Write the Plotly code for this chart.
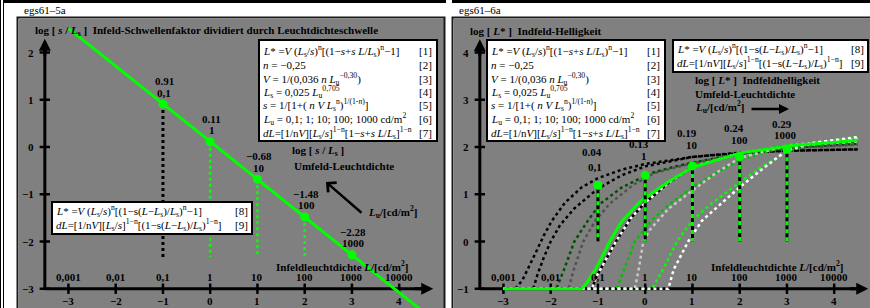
import plotly.graph_objects as go

# ---------------- data ----------------
# left panel: log(s/Ls) versus log Lu
lu_log = [-1, 0, 1, 2, 3]
lu_lab = ["0,1", "1", "10", "100", "1000"]
s_ls_val = [0.91, 0.11, -0.68, -1.48, -2.28]
s_ls_lab = ["0.91", "0.11", "\u22120.68", "\u22121.48", "\u22122.28"]
line_u = [-3, -2, -1, 0, 1, 2, 3, 4, 4.6]
line_v = [2.51, 1.71, 0.91, 0.11, -0.68, -1.48, -2.28, -3.08, -3.56]
drop_end = -2.33

# right panel: log L* versus log L
pt_v = [1.19, 1.40, 1.60, 1.79, 1.95]
dl_lab = ["0.04", "0.13", "0.19", "0.24", "0.29"]

c1_u = [-3, -2.75, -2.6, -2.45, -2.3, -2.15, -1.98, -1.7, -1.34, -1.0, -0.5, 0, 1, 2, 3, 4.5]
c1_v = [-1, -1, -0.82, -0.52, -0.2, 0.12, 0.43, 0.82, 1.15, 1.34, 1.52, 1.64, 1.79, 1.87, 1.92, 1.95]
c2_u = [-3, -2.37, -2.28, -2.15, -2.0, -1.8, -1.5, -1.0, -0.5, 0, 1, 2, 3, 4.5]
c2_v = [-1, -1, -0.7, -0.35, 0.0, 0.35, 0.7, 1.12, 1.40, 1.59, 1.79, 1.88, 1.92, 1.95]
c3_u = [-3, -1.88, -1.72, -1.5, -1.2, -0.95, -0.5, 0.1, 0.6, 1.16, 2, 3, 4.5]
c3_v = [-1, -1, -0.6, 0.0, 0.46, 0.8, 1.14, 1.44, 1.58, 1.70, 1.86, 1.98, 2.07]
c4_u = [-3, -1.62, -1.52, -1.42, -1.31, -1.05, -0.75, -0.25, 0.2, 1, 2, 3, 4.5]
c4_v = [-1, -1, -0.62, -0.3, 0.0, 0.45, 0.80, 1.2, 1.45, 1.66, 1.85, 1.97, 2.05]
c5_u = [-3, -1.35, -1.22, -1.0, -0.75, -0.5, -0.1, 0.5, 1.0, 2.0, 3.0, 4.5]
c5_v = [-1, -1, -0.86, -0.5, 0.0, 0.42, 0.85, 1.27, 1.57, 1.87, 2.02, 2.14]
c6_u = [-3, -1.13, -1.02, -0.85, -0.62, -0.3, 0, 0.5, 1, 2, 3, 4.5]
c6_v = [-1, -1, -0.72, -0.4, 0.0, 0.5, 0.82, 1.25, 1.58, 1.87, 2.02, 2.12]
c7_u = [-3, -0.6, -0.45, -0.22, 0.14, 0.5, 1.0, 1.5, 2.0, 3.0, 4.5]
c7_v = [-1, -1, -0.6, 0.0, 0.45, 0.78, 1.15, 1.45, 1.72, 2.03, 2.18]
c8_u = [-3, -0.22, -0.14, -0.04, 0.1, 0.25, 0.5, 1.0, 1.5, 2.0, 3.0, 4.5]
c8_v = [-1, -1, -0.6, 0.0, 0.25, 0.42, 0.7, 1.08, 1.45, 1.77, 2.03, 2.18]
c9_u = [-3, 0.14, 0.4, 0.67, 1.0, 1.4, 2.0, 2.5, 3.0, 3.5, 4.5]
c9_v = [-1, -1, -0.55, 0.0, 0.45, 0.8, 1.25, 1.6, 1.9, 2.06, 2.22]
c10_u = [-3, 0.49, 0.6, 0.75, 0.91, 1.2, 1.6, 2.0, 2.5, 3.0, 3.5, 4.5]
c10_v = [-1, -1, -0.6, -0.3, 0.0, 0.44, 0.8, 1.15, 1.55, 1.93, 2.08, 2.21]

x_ticks = [-3, -2, -1, 0, 1, 2, 3, 4]
x_tick_lab = ["\u22123", "\u22122", "\u22121", "0", "1", "2", "3", "4"]
lum_lab = ["0,001", "0,01", "0,1", "1", "10", "100", "1000", "10000"]
left_y_ticks = [2, 1, 0, -1, -2, -3]
right_y_ticks = [4, 3, 2, 1, 0, -1]

# ---------------- geometry ----------------
W, H = 870, 308
S = 47.25
LX0, LY0 = 210.2, 147.0     # pixel of (0,0) left panel
RX0, RY0 = 645.2, 147.0     # pixel of (0,2) right panel
FONT = "Liberation Serif"
GRAY = "#808080"

def PX(p): return p / W
def PY(p): return 1 - p / H

fig = go.Figure()

def tr(ax, x, y, color, width, dash=None, mode="lines", **kw):
    line = dict(color=color, width=width)
    if dash:
        line["dash"] = dash
    fig.add_trace(go.Scatter(x=x, y=y, xaxis="x" + ax, yaxis="y" + ax, mode=mode,
                             line=line, hoverinfo="skip", showlegend=False, **kw))

def txt(ax, x, y, text, bold=False, size=11, xanchor="center", yanchor="middle", ref="data"):
    if bold:
        text = "<b>" + text + "</b>"
    if ref == "data":
        xr, yr = "x" + ax, "y" + ax
    else:
        xr, yr = "paper", "paper"
    fig.add_annotation(x=x, y=y, xref=xr, yref=yr, text=text, showarrow=False,
                       xanchor=xanchor, yanchor=yanchor,
                       font=dict(family=FONT, size=size, color="black"))

def arrow(ax, x0, y0, x1, y1, width=2.5, head=2, size=1.0):
    fig.add_annotation(x=x1, y=y1, ax=x0, ay=y0, xref="x" + ax, yref="y" + ax,
                       axref="x" + ax, ayref="y" + ax, text="", showarrow=True,
                       arrowhead=head, arrowsize=size, arrowwidth=width, arrowcolor="black")

# ================= LEFT PANEL =================
L = ""
tr(L, [-3.5, 4.55], [-3, -3], "black", 3)
tr(L, [-3.5, -3.5], [-3, 2.1], "black", 3)
arrow(L, 4.3, -3, 4.72, -3, width=3, head=2, size=0.8)
arrow(L, -3.5, 1.9, -3.5, 2.29, width=3, head=2, size=0.8)
for t in x_ticks:
    tr(L, [t, t], [-3.11, -2.89], "black", 2.5)
for t in left_y_ticks:
    tr(L, [-3.61, -3.39], [t, t], "black", 2.5)

tr(L, [lu_log[0], lu_log[0]], [s_ls_val[0], drop_end], "black", 3, dash="3px,3px")
for i in range(1, 4):
    tr(L, [lu_log[i], lu_log[i]], [s_ls_val[i], drop_end], "#00ff00", 2.5, dash="3px,3px")
tr(L, line_u, line_v, "#00ff00", 3)
fig.add_trace(go.Scatter(x=lu_log, y=s_ls_val, xaxis="x", yaxis="y", mode="markers",
                         marker=dict(color="#00ff00", size=9), hoverinfo="skip", showlegend=False))

# ================= RIGHT PANEL =================
R = "2"
tr(R, [-3.5, 4.55], [-1, -1], "black", 3)
tr(R, [-3.5, -3.5], [-1, 4.1], "black", 3)
arrow(R, 4.3, -1, 4.72, -1, width=3, head=2, size=0.8)
arrow(R, -3.5, 3.9, -3.5, 4.28, width=3, head=2, size=0.8)
for t in x_ticks:
    tr(R, [t, t], [-1.11, -0.89], "black", 2.5)
for t in right_y_ticks:
    tr(R, [-3.61, -3.39], [t, t], "black", 2.5)

D = "3px,3px"
tr(R, c1_u, c1_v, "black", 2.5, dash=D)
tr(R, c2_u, c2_v, "black", 2.5, dash=D)
tr(R, c3_u, c3_v, "#005000", 2.5, dash=D)
tr(R, c4_u, c4_v, "#505050", 2.5, dash=D)
tr(R, c6_u, c6_v, "black", 2.5)
tr(R, c6_u, c6_v, "white", 2.5, dash=D)
tr(R, c7_u, c7_v, "#00c000", 2.5, dash=D)
tr(R, c8_u, c8_v, "#c8c8c8", 2.5, dash=D)
tr(R, c9_u, c9_v, "#00ff00", 2.5, dash=D)
tr(R, c10_u, c10_v, "white", 2.5, dash=D)
tr(R, c5_u, c5_v, "#00ff00", 3)
for i in range(5):
    tr(R, [lu_log[i], lu_log[i]], [pt_v[i], 0], "black", 3)
    tr(R, [lu_log[i], lu_log[i]], [pt_v[i], 0], "#00ff00", 3, dash="4px,4px")
fig.add_trace(go.Scatter(x=lu_log, y=pt_v, xaxis="x2", yaxis="y2", mode="markers",
                         marker=dict(color="#00ff00", size=9), hoverinfo="skip", showlegend=False))

# ---------------- shapes (frames, white boxes) ----------------
shapes = []
def rect_px(x0, y0, x1, y1, fill=None, lw=0, lc="black", layer="above"):
    shapes.append(dict(type="rect", xref="paper", yref="paper",
                       x0=PX(x0), x1=PX(x1), y0=PY(y0), y1=PY(y1),
                       fillcolor=fill if fill else "rgba(0,0,0,0)",
                       line=dict(color=lc, width=lw), layer=layer))

rect_px(3, 0, 446, 3, fill="black")
rect_px(452, 0, 875, 3, fill="black")
rect_px(0, 0, 1, 308, fill="black")
rect_px(3, 0, 4, 308, fill="black")
rect_px(17.5, 17.5, 444.5, 320, lw=2, lc="#1a1a1a")
rect_px(452.5, 17.5, 880, 320, lw=2, lc="#1a1a1a")

BOX1_L = (259, 40, 437, 141)
BOX1_R = (487, 40, 665, 141)
BOX2_L = (52, 202, 252, 234)
BOX2_R = (673, 40, 868, 72)
for b in (BOX1_L, BOX1_R, BOX2_L, BOX2_R):
    rect_px(*b, fill="white", lw=2, lc="black")

fig.update_layout(shapes=shapes)

formulas1 = [
    "<i>L</i>* =<i>V</i> (<i>L</i><sub>s</sub>/<i>s</i>)<sup>n</sup>[(1\u2212<i>s</i>+<i>s L</i>/<i>L</i><sub>s</sub>)<sup>n</sup>\u22121]",
    "<i>n</i> = \u22120,25",
    "<i>V</i> = 1/(0,036 <i>n L</i><sub>u</sub><sup>\u22120,30</sup>)",
    "<i>L</i><sub>s</sub> = 0,025 <i>L</i><sub>u</sub><sup>0,705</sup>",
    "<i>s</i> = 1/[1+( <i>n V L</i><sub>s</sub><sup>n</sup>)<sup>1/(1-<i>n</i>)</sup>]",
    "<i>L</i><sub>u</sub> = 0,1; 1; 10; 100; 1000 cd/m<sup>2</sup>",
    "<i>dL</i>=[1/n<i>V</i>][<i>L</i><sub>s</sub>/<i>s</i>]<sup>1\u2212n</sup>[1\u2212<i>s</i>+<i>s L</i>/<i>L</i><sub>s</sub>]<sup>1\u2212n</sup>",
]
formulas2 = [
    "<i>L</i>* =<i>V</i> (<i>L</i><sub>s</sub>/<i>s</i>)<sup>n</sup>[(1\u2212s(<i>L</i>\u2212<i>L</i><sub>s</sub>)/<i>L</i><sub>s</sub>)<sup>n</sup>\u22121]",
    "<i>dL</i>=[1/n<i>V</i>][<i>L</i><sub>s</sub>/<i>s</i>]<sup>1\u2212n</sup>[(1\u2212s(<i>L</i>\u2212<i>L</i><sub>s</sub>)/<i>L</i><sub>s</sub>)<sup>1\u2212n</sup>]",
]
for b in (BOX1_L, BOX1_R):
    for k, f in enumerate(formulas1):
        yy = b[1] + 11.5 + 13.5 * k
        txt("", PX(b[0] + 2), PY(yy), f, xanchor="left", ref="paper")
        txt("", PX(b[2] - 3), PY(yy), "[%d]" % (k + 1), xanchor="right", ref="paper")
for b in (BOX2_L, BOX2_R):
    for k, f in enumerate(formulas2):
        yy = b[1] + 9 + 13.5 * k
        txt("", PX(b[0] + 2), PY(yy), f, xanchor="left", ref="paper")
        txt("", PX(b[2] - 2), PY(yy), "[%d]" % (k + 8), xanchor="right", ref="paper")

txt("", PX(22), PY(10), "egs61\u20135a", xanchor="left", ref="paper")
txt("", PX(457), PY(10), "egs61\u20136a", xanchor="left", ref="paper")

# ---------- left panel texts ----------
def lv(py): return (LY0 - py) / S
def lu(px): return (px - LX0) / S
txt(L, lu(33), lv(31), "log [ <i>s</i> / <i>L</i><sub>s</sub> ] &nbsp;Infeld-Schwellenfaktor dividiert durch Leuchtdichteschwelle", bold=True, xanchor="left")
txt(L, lu(290), lv(151), "log [ <i>s</i> / <i>L</i><sub>s</sub> ]", bold=True, xanchor="left")
txt(L, lu(292), lv(166), "Umfeld-Leuchtdichte", bold=True, xanchor="left")
txt(L, lu(366), lv(212), "<i>L</i><sub>u</sub>/[cd/m<sup>2</sup>]", bold=True, xanchor="left")
arrow(L, lu(363), lv(214), lu(326), lv(182), width=2.5, head=4, size=1.0)
txt(L, lu(274), lv(266), "Infeldleuchtdichte <i>L</i>/[cd/m<sup>2</sup>]", bold=True, xanchor="left")
txt(L, lu(432), lv(313), "log <i>L</i><sub>u</sub>/[cd/m<sup>2</sup>]", bold=True, xanchor="right")
for t, lab in zip(x_ticks, lum_lab):
    txt(L, t, -2.76, lab, bold=True)
for t, lab in zip(x_ticks, x_tick_lab):
    txt(L, t, -3.25, lab, bold=True)
for t in left_y_ticks:
    txt(L, -3.68, t, ("\u2212%d" % -t) if t < 0 else str(t), bold=True, xanchor="right")
for u, v, a, b in zip(lu_log, s_ls_val, s_ls_lab, lu_lab):
    txt(L, u + 0.03, v + 23 / S, a, bold=True)
    txt(L, u + 0.03, v + 11.5 / S, b, bold=True)

# ---------- right panel texts ----------
def rv(py): return 2 + (RY0 - py) / S
def ru(px): return (px - RX0) / S
txt(R, ru(468), rv(31), "log [ <i>L</i>* ] &nbsp;Indfeld-Helligkeit", bold=True, xanchor="left")
txt(R, ru(693), rv(80), "log [ <i>L</i>* ] &nbsp;Indfeldhelligkeit", bold=True, xanchor="left")
txt(R, ru(693), rv(93.5), "Umfeld-Leuchtdichte", bold=True, xanchor="left")
txt(R, ru(693), rv(107), "<i>L</i><sub>u</sub>/[cd/m<sup>2</sup>]", bold=True, xanchor="left")
arrow(R, ru(750), rv(109), ru(789), rv(109), width=2.5, head=2, size=0.8)
txt(R, ru(709), rv(266), "Infeldleuchtdichte <i>L</i>/[cd/m<sup>2</sup>]", bold=True, xanchor="left")
txt(R, ru(867), rv(313), "log <i>L</i>/[cd/m<sup>2</sup>]", bold=True, xanchor="right")
for t, lab in zip(x_ticks, lum_lab):
    txt(R, t, -0.76, lab, bold=True)
for t, lab in zip(x_ticks, x_tick_lab):
    txt(R, t, -1.25, lab, bold=True)
for t in right_y_ticks:
    txt(R, -3.68, t, ("\u2212%d" % -t) if t < 0 else str(t), bold=True, xanchor="right")
dl_px = [(591.7, 151.7, 595, 167.3), (639, 144, 644.3, 155.7), (686.7, 133.3, 691.7, 145),
         (734, 128.3, 739.3, 140), (781.7, 124, 785, 135)]
for (x1, y1, x2, y2), a, b in zip(dl_px, dl_lab, lu_lab):
    txt(R, ru(x1), rv(y1), a, bold=True)
    txt(R, ru(x2), rv(y2), b, bold=True)

# ---------------- layout ----------------
fig.update_layout(
    width=W, height=H, margin=dict(l=0, r=0, t=0, b=0),
    paper_bgcolor="white", plot_bgcolor=GRAY,
    xaxis=dict(domain=[PX(19), PX(444)], range=[lu(19), lu(444)], visible=False, fixedrange=True),
    yaxis=dict(domain=[0, PY(19)], range=[lv(308), lv(19)], visible=False, fixedrange=True),
    xaxis2=dict(domain=[PX(454), 1], range=[ru(454), ru(870)], visible=False, anchor="y2", fixedrange=True),
    yaxis2=dict(domain=[0, PY(19)], range=[rv(308), rv(19)], visible=False, anchor="x2", fixedrange=True),
    showlegend=False,
)

fig.write_html("out.html", config={"displayModeBar": False, "staticPlot": True},
               post_script="document.body.style.margin='0';document.body.style.overflow='hidden';")
